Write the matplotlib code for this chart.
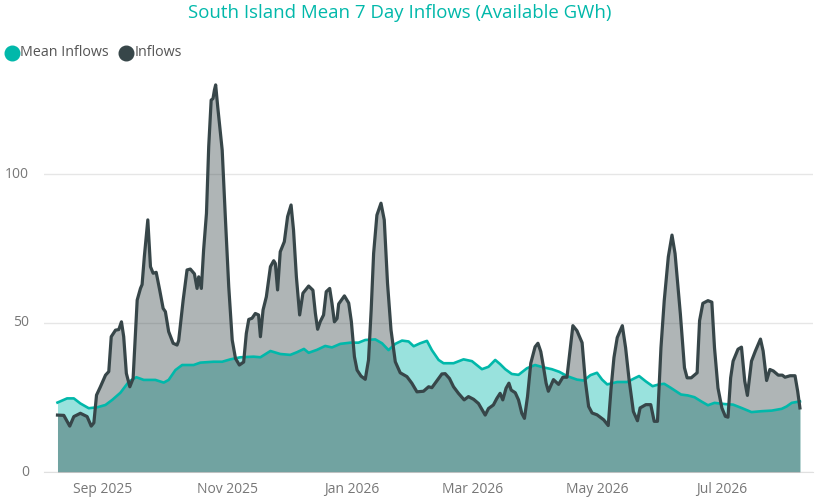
import numpy as np
import pandas as pd
import matplotlib
matplotlib.use("Agg")
import matplotlib.pyplot as plt
import matplotlib.dates as mdates
from matplotlib.lines import Line2D

plt.rcParams["font.family"] = ["Open Sans", "DejaVu Sans"]

start = pd.Timestamp("2025-08-10")

# days after start, values in GWh
inflow_days = [0, 3.1, 6.0, 8.0, 11.2, 14.5, 16.5, 17.8, 19.1, 21.0, 23.5, 25.1, 26.3, 28.4,
               30.0, 31.3, 32.4, 33.7, 35.4, 37.0, 39.0, 40.6, 41.4, 42.5, 44.2, 45.5, 46.8,
               48.3, 50.0, 51.7, 52.8, 54.4, 56.6, 58.5, 59.3, 61.5, 63.4, 65.0, 67.0, 68.3,
               69.1, 70.4, 71.5, 72.9, 74.0, 75.2, 76.1, 76.8, 77.4, 78.4, 80.6, 82.2, 83.8,
               85.5, 87.1, 89.0, 91.1, 92.4, 93.6, 95.2, 96.8, 98.4, 99.3, 100.6, 102.2,
               104.2, 105.8, 106.6, 107.7, 109.0, 111.0, 112.6, 114.3, 115.5, 116.9, 118.5,
               120.1, 122.9, 125.0, 126.2, 127.3, 128.6, 130.2, 131.5, 133.2, 134.3, 135.5,
               136.8, 137.6, 140.4, 142.5, 143.8, 145.3, 146.6, 148.5, 150.6, 152.2, 153.5,
               154.7, 156.3, 158.3, 159.9, 161.5, 163.2, 165.3, 167.7, 171.0, 173.4, 175.9,
               179.1, 181.6, 183.2, 184.8, 188.1, 189.7, 191.8, 193.8, 196.2, 199.0, 201.1,
               203.6, 206.0, 207.7, 209.3, 210.9, 213.3, 215.0, 216.6, 217.9, 219.5, 220.9,
               222.0, 224.0, 225.6, 227.2, 228.5, 230.0, 231.6, 233.7, 235.1, 236.5, 237.8,
               239.1, 240.2, 242.7, 245.2, 247.3, 249.3, 250.6, 252.2, 254.2, 256.7, 258.3,
               259.9, 261.6, 264.0, 267.3, 269.5, 270.9, 272.3, 273.9, 276.4, 278.0, 279.7,
               281.8, 283.8, 285.1, 287.9, 290.3, 292.0, 293.6, 295.3, 296.9, 298.9, 300.7,
               302.2, 304.8, 306.8, 308.1, 310.1, 313.0, 314.2, 315.8, 318.3, 320.2, 321.5,
               323.2, 325.1, 326.8, 328.1, 329.4, 330.6, 333.0, 334.7, 336.3, 337.6, 339.6,
               341.5, 344.0, 345.3, 347.0, 348.6, 350.3, 352.7, 354.7, 356.0, 358.5, 360.9,
               362.2, 363.3]
inflow_vals = [19.1, 19.0, 15.4, 18.6, 19.7, 18.6, 15.4, 16.5, 25.8, 28.6, 32.5, 33.7, 45.4, 47.6,
               47.8, 50.4, 45.4, 33.1, 28.6, 31.4, 57.7, 61.6, 62.9, 72.3, 84.6, 68.9, 66.7,
               67.0, 61.1, 54.9, 53.8, 47.1, 43.2, 42.6, 44.1, 57.7, 67.8, 68.1, 66.5, 61.6,
               65.5, 61.6, 74.5, 86.8, 109.2, 124.8, 125.3, 128.2, 129.9, 122.6, 108.0, 84.6,
               62.2, 44.3, 38.1, 35.9, 36.9, 46.5, 51.2, 51.6, 53.2, 52.7, 45.4, 54.4, 58.8,
               68.9, 70.9, 70.0, 61.1, 73.9, 77.3, 85.7, 89.6, 81.2, 65.5, 52.7,
               60.0, 62.4, 61.0, 53.2, 47.9, 50.5, 52.7, 60.5, 61.6, 56.7, 50.4,
               51.5, 56.4, 59.1, 56.7, 50.5, 38.7, 34.2, 32.2, 31.1, 37.6, 54.4,
               73.4, 86.2, 90.2, 84.6, 63.3, 47.7, 37.0, 33.3, 32.0, 29.8, 26.9,
               27.1, 28.6, 28.3, 29.8, 32.9, 33.0, 31.4, 28.6, 26.4, 24.2, 25.3,
               24.4, 23.0, 21.0, 19.1, 21.3, 22.5, 24.7, 26.4, 24.2, 28.1, 29.8,
               27.5, 26.6, 24.2, 19.7, 18.0, 25.3, 36.5, 42.0, 43.2, 40.4, 35.3,
               29.8, 27.1, 31.0, 29.4, 31.8, 31.8, 39.5, 49.1, 47.4, 43.4, 30.5,
               22.0, 19.8, 19.2, 17.5, 15.6, 28.2, 38.4, 45.1, 49.1, 41.7, 31.0,
               20.3, 17.2, 21.5, 22.6, 22.6, 17.0, 17.0, 41.7, 57.5, 72.2, 79.5,
               73.3, 53.0, 35.0, 31.6, 31.6, 33.3, 50.8, 56.6, 57.5, 57.0, 41.7,
               28.2, 21.5, 18.7, 18.4, 31.6, 37.2, 41.2, 41.9, 30.5, 25.7, 37.2,
               40.6, 44.6, 40.6, 30.7, 34.4, 33.9, 32.5, 32.5, 31.8, 32.3, 32.3,
               27.1, 21.5]

mean_days = [0, 4.7, 8.0, 11.2, 15.3, 19.4, 23.5, 26.8, 30.8, 34.9, 38.6, 42.2, 47.9, 52.0,
             54.4, 57.7, 61.0, 66.6, 69.9, 76.4, 80.6, 84.6, 89.5, 96.0, 99.3, 104.2, 109.0,
             113.9, 117.2, 120.6, 122.9, 127.0, 131.0, 134.3, 138.4, 143.3, 147.3, 150.6,
             155.5, 158.8, 162.0, 165.3, 168.6, 171.8, 174.3, 177.5, 180.8, 183.2, 186.5,
             188.9, 193.8, 198.7, 202.8, 207.7, 210.9, 214.2, 216.6, 219.1, 222.3, 225.6,
             229.7, 233.7, 237.8, 241.9, 245.6, 249.3, 254.2, 257.5, 260.8, 264.0, 266.5,
             269.0, 273.9, 278.8, 282.2, 284.6, 287.9, 291.2, 294.4, 296.9, 300.2, 305.1,
             308.4, 311.7, 315.0, 318.3, 321.5, 326.5, 330.6, 334.7, 339.6, 344.5, 349.5,
             354.4, 356.8, 359.3, 363.3]
mean_vals = [23.3, 24.7, 24.7, 23.0, 21.4, 21.7, 22.5, 24.2, 26.6, 30.3, 31.8, 30.9, 30.9, 30.0,
             30.9, 34.2, 35.9, 35.9, 36.7, 37.0, 37.0, 37.8, 38.5, 38.7, 38.5, 40.6, 39.6,
             39.3, 40.2, 41.3, 40.0, 41.0, 42.3, 41.8, 43.0, 43.4, 43.4, 44.3,
             44.5, 43.2, 40.9, 43.0, 44.1, 43.8, 42.2, 43.2, 44.0, 40.9, 37.6,
             36.5, 36.5, 37.8, 37.2, 34.5, 35.3, 37.6, 36.2, 34.5, 32.9, 32.6,
             34.8, 35.9, 35.1, 34.5, 33.6, 32.2, 31.0, 30.7, 32.5, 33.3, 31.0,
             29.4, 30.2, 30.2, 31.4, 32.2, 30.4, 28.8, 29.4, 29.6, 28.2, 26.0,
             25.7, 25.1, 23.7, 22.4, 23.2, 22.8, 22.6, 21.5, 20.1, 20.4, 20.6,
             21.2, 22.0, 23.2, 23.7]

tick_dates = ["2025-09-01", "2025-11-01", "2026-01-01", "2026-03-01", "2026-05-01", "2026-07-01"]
tick_labels = ["Sep 2025", "Nov 2025", "Jan 2026", "Mar 2026", "May 2026", "Jul 2026"]
y_ticks = [0, 50, 100]
series_names = ["Mean Inflows", "Inflows"]

teal = "#01B8AA"
dark = "#374649"
label_grey = "#777777"

W, H = 817, 499
base = mdates.date2num(start)
x_in = base + np.array(inflow_days)
x_mean = base + np.array(mean_days)

fig = plt.figure(figsize=(W / 100, H / 100), dpi=100)
ax = fig.add_axes([44 / W, 1 - 472 / H, 769 / W, (472 - 70) / H])

ax.fill_between(x_mean, 0, mean_vals, color=teal, alpha=0.4, linewidth=0, zorder=2)
ax.fill_between(x_in, 0, inflow_vals, color=dark, alpha=0.4, linewidth=0, zorder=3)
ax.plot(x_mean, mean_vals, color=teal, linewidth=1.9, zorder=4, solid_joinstyle="round")
ax.plot(x_in, inflow_vals, color=dark, linewidth=2.3, zorder=5, solid_joinstyle="round")

ax.set_xlim(base - 6.6, base + 369.7)
ax.set_ylim(0, 402 / 2.98)

ax.set_xticks([mdates.date2num(pd.Timestamp(d)) for d in tick_dates])
ax.set_xticklabels(tick_labels)
ax.set_yticks(y_ticks)
ax.set_yticklabels([])
ax.tick_params(axis="both", length=0)
ax.tick_params(axis="x", labelsize=10, colors=label_grey, pad=7)

# y labels placed so their right edge sits ~15 px left of the grid
for v in y_ticks:
    ax.text(-15 / 769, v, str(v), transform=ax.get_yaxis_transform(), ha="right", va="center",
            fontsize=10, color=label_grey)

for s in ["top", "right", "left"]:
    ax.spines[s].set_visible(False)
ax.spines["bottom"].set_color("#E0E0E0")
ax.yaxis.grid(True, color="#E6E6E6", linewidth=1)
ax.set_axisbelow(True)

fig.text(400 / W, 1 - 13 / H, "South Island Mean 7 Day Inflows (Available GWh)", ha="center",
         va="center", fontsize=13.4, color=teal)

# legend drawn by hand: circle + label
legend_x = [(11.7, 20.5), (125.8, 134.5)]
for (cx, tx), name, col in zip(legend_x, series_names, [teal, dark]):
    fig.add_artist(Line2D([cx / W], [1 - 53 / H], marker="o", markersize=10.5, color=col,
                          linestyle="", transform=fig.transFigure))
    fig.text(tx / W, 1 - 53 / H, name, ha="left", va="center", fontsize=10.3, color="#555555")

fig.savefig("out.png", dpi=100)
